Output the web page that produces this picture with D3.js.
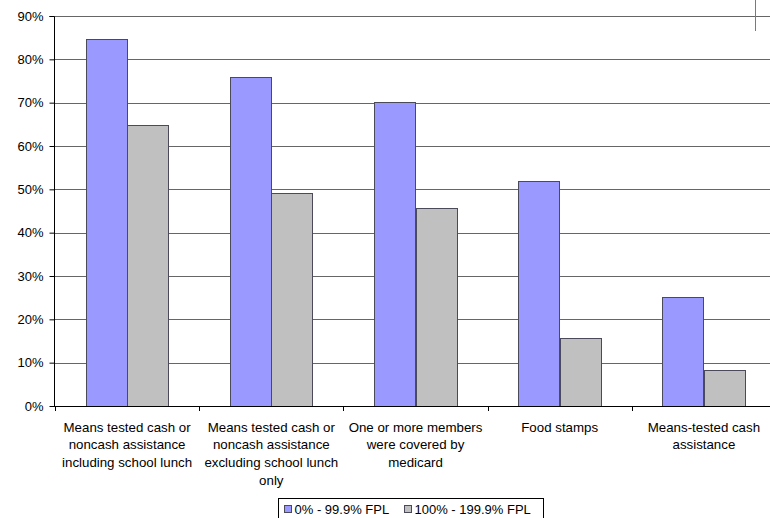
<!DOCTYPE html>
<html>
<head>
<meta charset="utf-8">
<script src="https://cdn.jsdelivr.net/npm/d3@7"></script>
<style>
  html, body { margin: 0; padding: 0; background: #fff; overflow: hidden; }
  svg { display: block; font-family: "Liberation Sans", Arial, sans-serif; }
</style>
</head>
<body>
<svg id="chart" width="770" height="518"></svg>
<script>
// Share of households receiving each type of assistance, by poverty level
const categories = [
  ["Means tested cash or", "noncash assistance", "including school lunch"],
  ["Means tested cash or", "noncash assistance", "excluding school lunch", "only"],
  ["One or more members", "were covered by", "medicard"],
  ["Food stamps"],
  ["Means-tested cash", "assistance"]
];
const seriesNames = ["0% - 99.9% FPL", "100% - 199.9% FPL"];
const belowFPL = [84.7, 75.9, 70.2, 51.9, 25.2];
const nearFPL = [64.8, 49.2, 45.7, 15.7, 8.3];
const yTicks = [0, 10, 20, 30, 40, 50, 60, 70, 80, 90];
const colors = ["#9999FF", "#C0C0C0"];

const svg = d3.select("#chart");
const plotLeft = 55, plotRight = 776, plotTop = 16, plotBottom = 406;

const x = d3.scaleBand().domain(d3.range(categories.length)).range([plotLeft, plotRight]).paddingInner(0).paddingOuter(0);
const inner = d3.scaleBand().domain([0, 1]).range([0, x.bandwidth()]).paddingOuter(0.74).paddingInner(0);
const y = d3.scaleLinear().domain([0, 90]).range([plotBottom, plotTop]);

// Horizontal gridlines
svg.append("g").selectAll("line").data(yTicks.slice(1)).join("line")
  .attr("x1", plotLeft).attr("x2", 770)
  .attr("y1", d => Math.round(y(d)) + 0.5).attr("y2", d => Math.round(y(d)) + 0.5)
  .attr("stroke", "#666").attr("stroke-width", 1);

// Bars
const series = [belowFPL, nearFPL];
series.forEach((vals, s) => {
  svg.append("g").selectAll("rect").data(vals).join("rect")
    .attr("x", (d, i) => Math.round(x(i) + inner(s)) + 0.5)
    .attr("y", d => Math.round(y(d)) + 0.5)
    .attr("width", Math.round(inner.bandwidth()))
    .attr("height", d => Math.round(y(0)) - Math.round(y(d)))
    .attr("fill", colors[s])
    .attr("stroke", "#4a4a5a").attr("stroke-width", 1);
});

// Y axis
const yAxis = d3.axisLeft(y).tickValues(yTicks).tickFormat(d => d + "%").tickSize(5).tickPadding(6);
const gy = svg.append("g").attr("transform", `translate(${plotLeft - 0.5},0)`).call(yAxis);
gy.select(".domain").attr("stroke", "#000").attr("d", `M-5,${plotTop}.5H0V${plotBottom}`);
gy.selectAll(".tick line").attr("stroke", "#000");
gy.selectAll(".tick text").attr("font-size", 13).attr("fill", "#000")
  .attr("font-family", "Liberation Sans, Arial, sans-serif");

// X axis baseline and category ticks
svg.append("line").attr("x1", plotLeft - 5).attr("x2", 770)
  .attr("y1", plotBottom + 0.5).attr("y2", plotBottom + 0.5).attr("stroke", "#000");
svg.append("g").selectAll("line").data(d3.range(categories.length + 1)).join("line")
  .attr("x1", i => Math.round(plotLeft + i * x.bandwidth()) + 0.5)
  .attr("x2", i => Math.round(plotLeft + i * x.bandwidth()) + 0.5)
  .attr("y1", plotBottom).attr("y2", plotBottom + 5).attr("stroke", "#000");

// Category labels
const labels = svg.append("g").selectAll("text").data(categories).join("text")
  .attr("text-anchor", "middle").attr("font-size", 13.3).attr("fill", "#000");
labels.each(function(lines, i) {
  d3.select(this).selectAll("tspan").data(lines).join("tspan")
    .attr("x", x(i) + x.bandwidth() / 2)
    .attr("y", (d, k) => 431.5 + k * 17.7)
    .text(d => d);
});

// Short vertical stroke near the top right
svg.append("line").attr("x1", 755.5).attr("x2", 755.5).attr("y1", 0).attr("y2", 31)
  .attr("stroke", "#7a7a7a");

// Legend
const lg = svg.append("g");
lg.append("rect").attr("x", 278.5).attr("y", 498.5).attr("width", 265).attr("height", 30)
  .attr("fill", "#fff").attr("stroke", "#000");
const legendX = [284, 404];
seriesNames.forEach((name, s) => {
  lg.append("rect").attr("x", legendX[s] + 0.5).attr("y", 505.5).attr("width", 7).attr("height", 7)
    .attr("fill", colors[s]).attr("stroke", "#4a4a5a");
  lg.append("text").attr("x", legendX[s] + 10.5).attr("y", 514)
    .attr("font-size", 13).attr("fill", "#000").text(name);
});
</script>
</body>
</html>
